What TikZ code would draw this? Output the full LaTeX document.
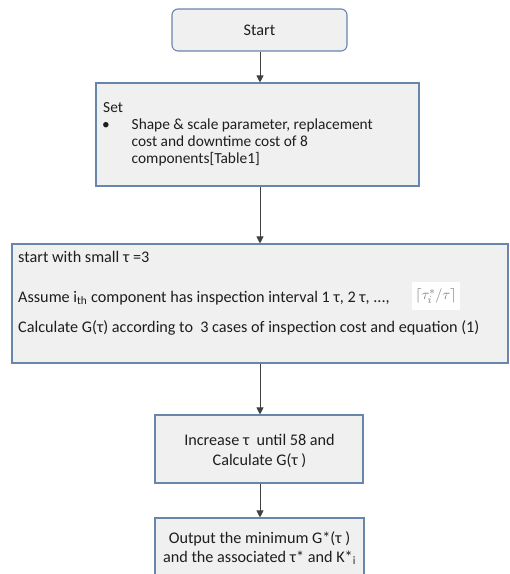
\documentclass[tikz,border=0pt]{standalone}
\usepackage{fontspec}
\setmainfont{Carlito}
\usetikzlibrary{arrows.meta}
\definecolor{boxfill}{RGB}{240,240,240}
\definecolor{boxline}{RGB}{104,134,172}
\definecolor{txt}{RGB}{30,30,30}
\begin{document}
\begin{tikzpicture}[x=1pt,y=-1pt,
  box/.style={draw=boxline,fill=boxfill,line width=1.1pt,inner sep=0pt,minimum width=#1},
  lbl/.style={anchor=base west,inner sep=0pt,text=txt,font=\fontsize{16.2}{19}\selectfont},
  slbl/.style={anchor=base west,inner sep=0pt,text=txt,font=\fontsize{15.4}{17}\selectfont},
  clbl/.style={anchor=base,inner sep=0pt,text=txt,font=\fontsize{16.2}{19}\selectfont},
  arr/.style={draw=black!75,line width=0.9pt,-{Triangle[length=7pt,width=7pt]}}]
\useasboundingbox (0,0) rectangle (510,574);
\clip (0,0) rectangle (510,574);
% boxes
\node[box=175pt,minimum height=42pt,rounded corners=6pt] (start) at (259.5,30) {};
\node[box=323pt,minimum height=103pt] (set) at (257.5,134.5) {};
\node[box=496pt,minimum height=119pt] (big) at (260,303.5) {};
\node[box=208pt,minimum height=68pt] (inc) at (259,449) {};
\node[box=209pt,minimum height=62pt] (out) at (259.5,549) {};
% texts
\node[clbl] (tstart) at (259.5,35.5) {Start};
\node[slbl] (tset) at (103,112) {Set};
\node[slbl] (tb) at (102,129) {•};
\node[slbl] (ts1) at (131.5,129) {Shape \& scale parameter, replacement};
\node[slbl] (ts2) at (131.5,146) {cost and downtime cost of 8};
\node[slbl] (ts3) at (131.5,163) {components[Table1]};
\node[lbl] (tb1) at (18,262) {start with small τ =3};
\node[lbl] (tb2) at (18,302) {Assume i\textsubscript{th} component has inspection interval 1 τ, 2 τ, ...,};
\node[fill=white,inner sep=2pt,text=black!55,minimum width=48pt,minimum height=28pt,font=\fontsize{15}{18}\selectfont] (frm) at (436,296) {$\left\lceil \tau_i^{*}/\tau \right\rceil$};
\node[lbl] (tb3) at (18,332) {Calculate G(τ) according to \ 3 cases of inspection cost and equation (1)};
\node[clbl] (ti1) at (259.5,445) {Increase τ \ until 58 and};
\node[clbl] (ti2) at (259.5,465) {Calculate G(τ )};
\node[clbl] (to1) at (259.5,543) {Output the minimum G*(τ )};
\node[clbl] (to2) at (259.5,562) {and the associated τ* and K*\textsubscript{i}};
% arrows
\draw[arr] (start.south -| 260,0) -- (set.north -| 260,0);
\draw[arr] (set.south -| 260,0) -- (big.north -| 260,0);
\draw[arr] (big.south -| 260,0) -- (inc.north -| 260,0);
\draw[arr] (inc.south -| 260,0) -- (out.north -| 260,0);
\end{tikzpicture}
\end{document}
